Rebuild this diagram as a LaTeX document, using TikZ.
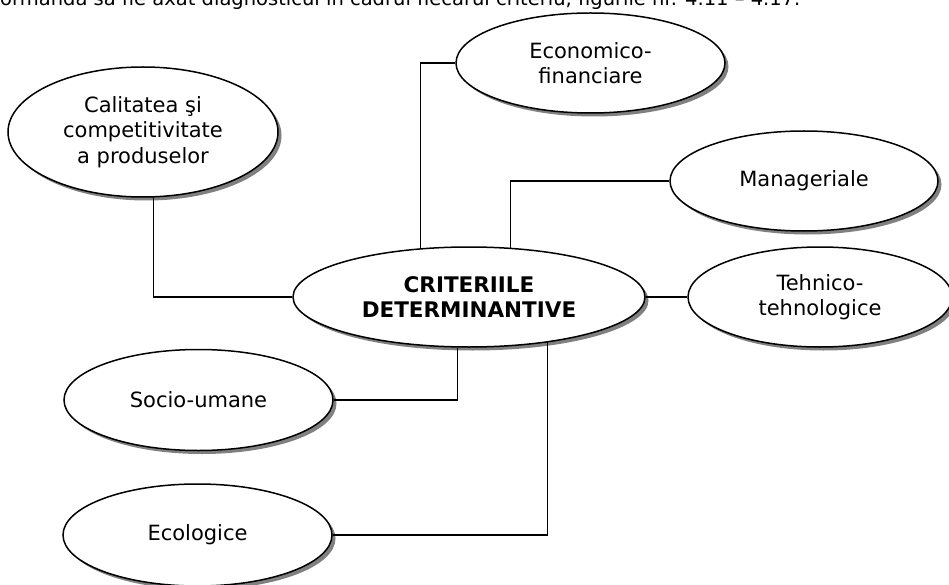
\documentclass[tikz,border=0pt]{standalone}
\usepackage{fontspec}
\setmainfont{DejaVu Sans}
\usetikzlibrary{shapes.geometric,shadows}
\begin{document}
\begin{tikzpicture}[x=1pt,y=-1pt,
  oval/.style={ellipse, draw, line width=1.5pt, fill=white, inner sep=0pt,
    align=center, font=\fontsize{21}{25.5}\selectfont,
    drop shadow={shadow xshift=3.5pt, shadow yshift=-3.5pt, fill=black!50, opacity=1}},
  link/.style={line width=1.3pt}]
\useasboundingbox (0,0) rectangle (949,585);
\clip (0,0) rectangle (949,585);

% last line of the preceding paragraph
\node[anchor=base west, inner sep=0pt, font=\fontsize{19.5}{22}\selectfont] (intro) at (0,6)
  {ormandă să fie axat diagnosticul în cadrul fiecărui criteriu, figurile nr. 4.11 – 4.17.};

% criteria
\node[oval, minimum width=269pt, minimum height=100pt] (eco)  at (590.5,63)  {Economico-\\financiare};
\node[oval, minimum width=270pt, minimum height=130pt] (cal)  at (143,132)   {Calitatea şi\\competitivitate\\a produselor};
\node[oval, minimum width=268pt, minimum height=100pt] (man)  at (804,181)   {Manageriale};
\node[oval, minimum width=352pt, minimum height=100pt,
      font=\bfseries\fontsize{21.5}{25.5}\selectfont] (cent) at (469,297) {CRITERIILE\\DETERMINANTIVE};
\node[oval, minimum width=264pt, minimum height=100pt] (teh)  at (820,297)   {Tehnico-\\tehnologice};
\node[oval, minimum width=269pt, minimum height=101pt] (soc)  at (198.5,400) {Socio-umane};
\node[oval, minimum width=269pt, minimum height=102pt] (ecol) at (197.5,535) {Ecologice};

% connectors
\draw[link] (cent.135)    |- (eco.west);
\draw[link] (cent.50)     |- (man.west);
\draw[link] (cal.-81.2)   |- (cent.west);
\draw[link] (cent.east)   -- (teh.west);
\draw[link] (cent.-103.5) |- (soc.east);
\draw[link] (cent.-30.3)  |- (ecol.east);
\end{tikzpicture}
\end{document}
